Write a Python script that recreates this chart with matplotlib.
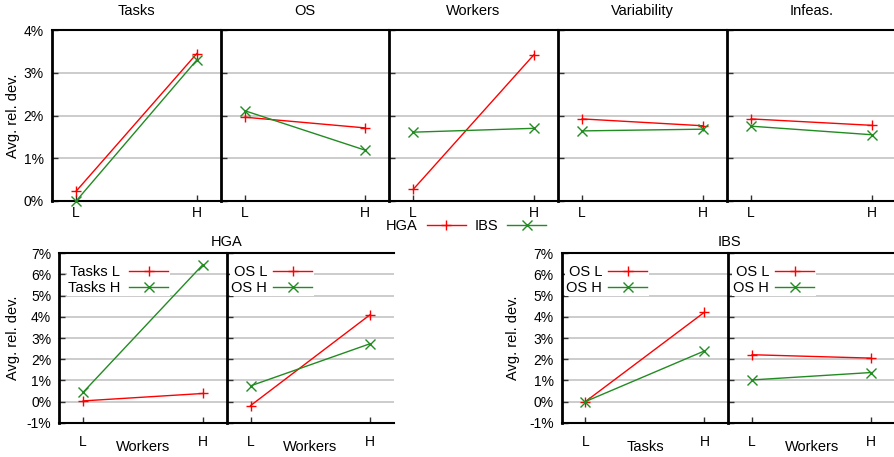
import matplotlib.pyplot as plt

plt.rcParams['font.family'] = ['Liberation Sans', 'DejaVu Sans']
FS = 10.5      # titles, labels, legends
TFS = 10       # tick labels

# ---- data (avg. relative deviation, %) ----
levels = ['L', 'H']
factors = ['Tasks', 'OS', 'Workers', 'Variability', 'Infeas.']
hga_main = [[0.23, 3.45], [1.96, 1.71], [0.27, 3.42], [1.92, 1.76], [1.92, 1.77]]
ibs_main = [[0.00, 3.30], [2.11, 1.19], [1.61, 1.70], [1.64, 1.68], [1.75, 1.55]]
top_yticks = [0, 1, 2, 3, 4]

# HGA interactions (x = Workers)
hga_tasks_L = [0.03, 0.38]
hga_tasks_H = [0.44, 6.46]
hga_os_L = [-0.19, 4.10]
hga_os_H = [0.74, 2.73]
# IBS interactions
ibs_tasks_osL = [0.00, 4.22]   # x = Tasks
ibs_tasks_osH = [0.00, 2.39]
ibs_work_osL = [2.21, 2.05]    # x = Workers
ibs_work_osH = [1.02, 1.37]
bot_yticks = [-1, 0, 1, 2, 3, 4, 5, 6, 7]

RED = '#ff0000'
GREEN = '#228b22'
W, H = 895, 457

fig = plt.figure(figsize=(W / 100, H / 100), dpi=100)


def px_axes(left, top, right, bottom):
    return fig.add_axes([left / W, 1 - bottom / H, (right - left) / W, (bottom - top) / H])


def style(ax, yticks, show_labels, xpad):
    ax.set_xlim(-0.2, 1.2)
    ax.set_xticks([0, 1])
    ax.set_xticklabels(levels)
    ax.set_ylim(yticks[0], yticks[-1])
    ax.set_yticks(yticks)
    ax.set_yticklabels([f'{t}%' for t in yticks] if show_labels else [])
    ax.tick_params(direction='in', length=4, width=1, color='#303030', labelsize=TFS)
    ax.tick_params(axis='x', pad=xpad)
    ax.tick_params(axis='y', pad=5.8)
    ax.yaxis.grid(True, color='#c8c8c8', lw=1.3)
    ax.set_axisbelow(True)
    ax.spines['right'].set_visible(False)
    ax.spines['left'].set_linewidth(2)
    ax.spines['top'].set_linewidth(1.5)
    ax.spines['bottom'].set_linewidth(1.5)


def draw(ax, y, color, marker, label):
    return ax.plot([0, 1], y, color=color, lw=1, marker=marker, ms=7, mew=1,
                   label=label, clip_on=False, zorder=3)[0]


# ---- top row: main effects ----
top_lefts = [52, 221, 389, 558, 727, 896]
for i, name in enumerate(factors):
    ax = px_axes(top_lefts[i], 30, top_lefts[i + 1], 201)
    style(ax, top_yticks, i == 0, 3.5)
    h1 = draw(ax, hga_main[i], RED, '+', 'HGA')
    h2 = draw(ax, ibs_main[i], GREEN, 'x', 'IBS')
    fig.text((top_lefts[i] + top_lefts[i + 1]) / 2 / W, 1 - 11 / H, name,
             ha='center', va='center', fontsize=FS)
    if i == 0:
        handles = [h1, h2]

fig.text(13.3 / W, 1 - 115.5 / H, 'Avg. rel. dev.', rotation=90,
         ha='center', va='center', fontsize=FS)
fig.legend(handles, ['HGA', 'IBS'], loc='center', bbox_to_anchor=(466 / W, 1 - 226 / H),
           ncol=2, markerfirst=False, frameon=False, fontsize=FS, handlelength=2.67,
           handletextpad=0.62, columnspacing=0.62, borderpad=0.1)

# ---- bottom row: interactions ----
# (left px, right px, x label, red series, green series, legend labels, y tick labels, legend line end px)
panels = [
    (59.3, 226.7, 'Workers', hga_tasks_L, hga_tasks_H, ['Tasks L', 'Tasks H'], True, 168.3),
    (226.7, 394, 'Workers', hga_os_L, hga_os_H, ['OS L', 'OS H'], False, 312.3),
    (561.7, 728.3, 'Tasks', ibs_tasks_osL, ibs_tasks_osH, ['OS L', 'OS H'], True, 647.3),
    (728.3, 895, 'Workers', ibs_work_osL, ibs_work_osH, ['OS L', 'OS H'], False, 814.3),
]
top, bottom = 253.3, 422.7
for left, right, xlab, yL, yH, labs, first, line_end in panels:
    ax = px_axes(left, top, right, bottom)
    style(ax, bot_yticks, first, 9)
    draw(ax, yL, RED, '+', labs[0])
    draw(ax, yH, GREEN, 'x', labs[1])
    ax.text(0.5, (bottom - 446.7) / (bottom - top), xlab, transform=ax.transAxes,
            ha='center', va='center', fontsize=FS)
    ax.legend(loc='upper right',
              bbox_to_anchor=((line_end + 1.5 - left) / (right - left),
                              (bottom - 263.5) / (bottom - top)),
              markerfirst=False, fontsize=FS, handlelength=2.67,
              handletextpad=0.62 if first and labs[0].startswith('Tasks') else 0.42,
              labelspacing=0.12, borderpad=0.1, borderaxespad=0, fancybox=False,
              facecolor='white', edgecolor='none', framealpha=1)

fig.text(13.3 / W, 1 - 338 / H, 'Avg. rel. dev.', rotation=90, ha='center', va='center', fontsize=FS)
fig.text(513.3 / W, 1 - 338 / H, 'Avg. rel. dev.', rotation=90, ha='center', va='center', fontsize=FS)
fig.text(226.5 / W, 1 - 241.7 / H, 'HGA', ha='center', va='center', fontsize=FS)
fig.text(729.3 / W, 1 - 241.7 / H, 'IBS', ha='center', va='center', fontsize=FS)

fig.savefig('out.png', dpi=100)
